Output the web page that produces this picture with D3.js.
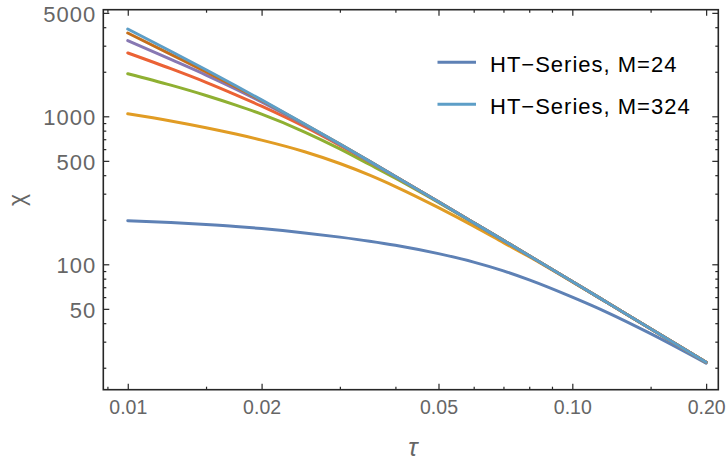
<!DOCTYPE html>
<html>
<head>
<meta charset="utf-8">
<script src="https://cdn.jsdelivr.net/npm/d3@7"></script>
<style>
  html, body { margin: 0; padding: 0; background: #fff; }
  svg { display: block; }
  text { font-family: "Liberation Sans", Arial, sans-serif; }
</style>
</head>
<body>
<svg id="chart" width="726" height="461"></svg>
<script>
// ---------- data ----------
const tau = [0.01, 0.0125, 0.015, 0.0175, 0.02, 0.025, 0.03, 0.035, 0.04, 0.05, 0.06, 0.07, 0.08, 0.1, 0.12, 0.15, 0.2];

const chiM24  = [197, 191.4, 185.9, 180.3, 174.3, 163.0, 152.6, 143.3, 134.6, 118, 103.5, 90.3, 78.5, 60.0, 47.2, 34.0, 21.5];
const chiS2   = [1040, 930, 837, 758.5, 690.6, 576.5, 480, 400.4, 335.3, 241.5, 181.1, 140.2, 112.4, 76.0, 54.9, 36.7, 21.8];
const chiS3   = [1940, 1623, 1382, 1190, 1033, 783, 602.6, 472.2, 381.4, 261.7, 190.4, 145.0, 114.3, 76.5, 55.0, 36.7, 21.8];
const chiS4   = [2680, 2097, 1697, 1397, 1170, 850, 636, 492, 391, 264.3, 191.0, 145.1, 114.3, 76.5, 55.0, 36.7, 21.8];
const chiS5   = [3244, 2422, 1901, 1528, 1250, 876, 646, 496.3, 392.4, 264.3, 191.0, 145.1, 114.3, 76.5, 55.0, 36.7, 21.8];
const chiS6   = [3655, 2623, 1998, 1578, 1278, 884, 649.2, 496.3, 392.4, 264.3, 191.0, 145.1, 114.3, 76.5, 55.0, 36.7, 21.8];
const chiM324 = [3890, 2752, 2064, 1608, 1290, 886.7, 649.2, 496.3, 392.4, 264.3, 191.0, 145.1, 114.3, 76.5, 55.0, 36.7, 21.8];

const seriesValues = [chiM24, chiS2, chiS3, chiS4, chiS5, chiS6, chiM324];
const seriesColors = ["#5E81B5", "#E19C24", "#8FB032", "#EB6235", "#8778B3", "#C56E1A", "#5D9EC7"];

const legendLabels = ["HT\u2212Series, M=24", "HT\u2212Series, M=324"];
const legendSeries = [0, 6];

const xMajor = [0.01, 0.02, 0.05, 0.1, 0.2];
const xMajorLabels = ["0.01", "0.02", "0.05", "0.10", "0.20"];
const xMinor = [0.009, 0.015, 0.03, 0.04, 0.06, 0.07, 0.08, 0.09, 0.15];
const yMajor = [50, 100, 500, 1000, 5000];
const yMajorLabels = ["50", "100", "500", "1000", "5000"];
const yMinor = [20, 30, 40, 60, 70, 80, 90, 200, 300, 400, 600, 700, 800, 900, 2000, 3000, 4000];

// ---------- layout ----------
const L = 103.3, R = 718.3, T = 9.7, B = 389.7;
const svg = d3.select("#chart");

const x = d3.scaleLog().domain([0.00881, 0.2130]).range([L, R]);
const y = d3.scaleLog().domain([14.21, 5252]).range([B, T]);

svg.append("defs").append("clipPath").attr("id", "clip")
  .append("rect").attr("x", L).attr("y", T).attr("width", R - L).attr("height", B - T);

const line = d3.line()
  .x((d, i) => x(tau[i]))
  .y(d => y(d))
  .curve(d3.curveMonotoneX);

const gLines = svg.append("g").attr("clip-path", "url(#clip)");
seriesValues.forEach((vals, k) => {
  gLines.append("path")
    .datum(vals)
    .attr("d", line)
    .attr("fill", "none")
    .attr("stroke", seriesColors[k])
    .attr("stroke-width", 3)
    .attr("stroke-linejoin", "round")
    .attr("stroke-linecap", "round");
});

const axisColor = "#262626";
const labelColor = "#666666";

function styleAxis(g) {
  g.select(".domain").remove();
  g.selectAll(".tick line").attr("stroke", axisColor).attr("stroke-width", 1.2);
}

// bottom
svg.append("g").attr("transform", `translate(0,${B})`)
  .call(d3.axisBottom(x).tickValues(xMajor).tickFormat((d, i) => xMajorLabels[i])
        .tickSizeInner(-6).tickSizeOuter(0).tickPadding(10))
  .call(styleAxis)
  .call(g => g.selectAll("text").attr("fill", labelColor).attr("font-size", "19.5px")
        .style("font-family", "'Liberation Sans', Arial, sans-serif"));
svg.append("g").attr("transform", `translate(0,${B})`)
  .call(d3.axisBottom(x).tickValues(xMinor).tickFormat("").tickSizeInner(-3).tickSizeOuter(0))
  .call(styleAxis);
// top
svg.append("g").attr("transform", `translate(0,${T})`)
  .call(d3.axisTop(x).tickValues(xMajor).tickFormat("").tickSizeInner(-6).tickSizeOuter(0))
  .call(styleAxis);
svg.append("g").attr("transform", `translate(0,${T})`)
  .call(d3.axisTop(x).tickValues(xMinor).tickFormat("").tickSizeInner(-3).tickSizeOuter(0))
  .call(styleAxis);
// left
svg.append("g").attr("transform", `translate(${L},0)`)
  .call(d3.axisLeft(y).tickValues(yMajor).tickFormat((d, i) => yMajorLabels[i])
        .tickSizeInner(-6).tickSizeOuter(0).tickPadding(7))
  .call(styleAxis)
  .call(g => g.selectAll("text").attr("fill", labelColor).attr("font-size", "22px")
        .attr("dy", "0.38em").style("letter-spacing", "1px")
        .style("font-family", "'Liberation Sans', Arial, sans-serif"));
svg.append("g").attr("transform", `translate(${L},0)`)
  .call(d3.axisLeft(y).tickValues(yMinor).tickFormat("").tickSizeInner(-3).tickSizeOuter(0))
  .call(styleAxis);
// right
svg.append("g").attr("transform", `translate(${R},0)`)
  .call(d3.axisRight(y).tickValues(yMajor).tickFormat("").tickSizeInner(-6).tickSizeOuter(0))
  .call(styleAxis);
svg.append("g").attr("transform", `translate(${R},0)`)
  .call(d3.axisRight(y).tickValues(yMinor).tickFormat("").tickSizeInner(-3).tickSizeOuter(0))
  .call(styleAxis);

// frame
svg.append("rect")
  .attr("x", L).attr("y", T).attr("width", R - L).attr("height", B - T)
  .attr("fill", "none").attr("stroke", axisColor).attr("stroke-width", 1.6);

// axis titles
svg.append("text")
  .attr("x", 413).attr("y", 456)
  .attr("text-anchor", "middle")
  .attr("fill", labelColor)
  .attr("font-size", "25px")
  .attr("font-style", "italic")
  .text("\u03C4");

svg.append("text")
  .attr("transform", "translate(25,200) rotate(-90)")
  .attr("text-anchor", "middle")
  .attr("fill", labelColor)
  .attr("font-size", "23px")
  .text("\u03C7");

// legend
const legY = [62.3, 104.3];
legendSeries.forEach((s, i) => {
  svg.append("line")
    .attr("x1", 437.5).attr("x2", 476)
    .attr("y1", legY[i]).attr("y2", legY[i])
    .attr("stroke", seriesColors[s]).attr("stroke-width", 3);
  svg.append("text")
    .attr("x", 490).attr("y", legY[i] + 9.2)
    .attr("fill", "#000")
    .attr("font-size", "22px")
    .style("letter-spacing", "1px")
    .text(legendLabels[i]);
});
</script>
</body>
</html>
